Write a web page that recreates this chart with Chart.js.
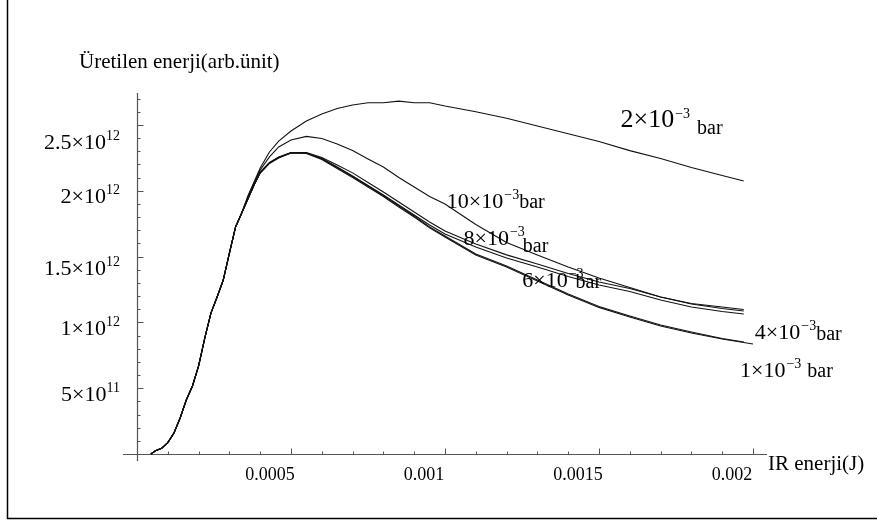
<!DOCTYPE html>
<html>
<head>
<meta charset="utf-8">
<script src="https://cdn.jsdelivr.net/npm/chart.js@4.4.0/dist/chart.umd.min.js"></script>
<style>
  html, body { margin: 0; padding: 0; background: #fff; }
  canvas { display: block; }
</style>
</head>
<body>
<canvas id="enerji" width="877" height="525"></canvas>
<script>
// IR enerjisi (J) - ortak x degerleri
const irEnerji = [0.000045, 0.00006, 0.00008, 0.0001, 0.00012, 0.00014, 0.00016, 0.00018,
  0.0002, 0.00022, 0.00024, 0.00026, 0.00028, 0.0003, 0.00032, 0.00034,
  0.00036, 0.00038, 0.0004, 0.00043, 0.00046, 0.0005, 0.00055, 0.0006, 0.00065, 0.0007,
  0.00075, 0.0008, 0.00085, 0.0009, 0.00095, 0.001, 0.0011, 0.0012, 0.0013, 0.0014,
  0.0015, 0.0016, 0.0017, 0.0018, 0.0019, 0.00197, 0.002];

// butun basinclarda ayni olan yukselis kismi (x10^12)
const yukselis = [0, 0.024, 0.043, 0.087, 0.160, 0.274, 0.410, 0.517, 0.669, 0.881,
  1.071, 1.193, 1.322, 1.527, 1.725, 1.831];

// 0.00036 J'den sonrasi, her basinc icin (x10^12)
const bar2 = [1.960, 2.067, 2.173, 2.295, 2.378, 2.454, 2.530, 2.584, 2.625, 2.652, 2.669, 2.669, 2.681,
  2.669, 2.669, 2.644, 2.600, 2.551, 2.492, 2.434, 2.375, 2.305, 2.245, 2.177, 2.116, 2.074, null];
const bar10 = [1.955, 2.059, 2.158, 2.257, 2.333, 2.386, 2.413, 2.397, 2.356, 2.306, 2.242, 2.181, 2.101,
  2.029, 1.957, 1.900, 1.744, 1.607, 1.512, 1.421, 1.337, 1.265, 1.193, 1.144, 1.117, 1.098, null];
const bar8 = [1.938, 2.044, 2.143, 2.215, 2.257, 2.291, 2.291, 2.253, 2.196, 2.136, 2.063, 1.991, 1.915,
  1.839, 1.763, 1.695, 1.596, 1.513, 1.444, 1.372, 1.307, 1.258, 1.193, 1.140, 1.106, 1.087, null];
const bar6 = [1.938, 2.044, 2.143, 2.212, 2.253, 2.287, 2.287, 2.245, 2.181, 2.113, 2.040, 1.968, 1.892,
  1.816, 1.740, 1.672, 1.573, 1.490, 1.421, 1.349, 1.284, 1.235, 1.170, 1.117, 1.083, 1.064, null];
const bar4 = [1.938, 2.044, 2.135, 2.211, 2.253, 2.291, 2.287, 2.245, 2.177, 2.109, 2.036, 1.964, 1.884,
  1.809, 1.725, 1.657, 1.520, 1.429, 1.322, 1.216, 1.121, 1.049, 0.980, 0.927, 0.878, 0.851, null];
const bar1 = [1.938, 2.044, 2.135, 2.208, 2.249, 2.287, 2.283, 2.238, 2.169, 2.101, 2.029, 1.957, 1.876,
  1.801, 1.718, 1.649, 1.512, 1.421, 1.315, 1.208, 1.114, 1.041, 0.973, 0.920, 0.874, 0.847, 0.836];

const xTicks = [0.0005, 0.001, 0.0015, 0.002];
const xTickLabels = ['0.0005', '0.001', '0.0015', '0.002'];
const yTicks = [5e11, 1e12, 1.5e12, 2e12, 2.5e12];
const yTickLabels = [['5×10', '11'], ['1×10', '12'], ['1.5×10', '12'], ['2×10', '12'], ['2.5×10', '12']];

const serif = '"Liberation Serif", "Times New Roman", serif';
// y sayilarinin tik cizgisine gore asagi kaymasi (px)
const yEtiketKayma = [13, 13, 18, 12, 24];

function seri(kuyruk) {
  const ys = yukselis.concat(kuyruk);
  return irEnerji.map((x, i) => ({ x: x, y: ys[i] == null ? null : ys[i] * 1e12 }))
    .filter(p => p.y !== null);
}

// egrilerin yanindaki basinc etiketleri (veri koordinatinda)
const etiketler = [
  { x: 0.00157, y: 2.487e12, ana: '2×10', size: 26, barDx: 7, barDy: 7 },
  { x: 0.001006, y: 1.867e12, ana: '10×10', size: 22, barDx: 0, barDy: 0 },
  { x: 0.00106, y: 1.588e12, ana: '8×10', size: 22, barDx: -2, barDy: 7 },
  { x: 0.001251, y: 1.271e12, ana: '6×10', size: 22, barDx: -8, barDy: 1 },
  { x: 0.002006, y: 0.872e12, ana: '4×10', size: 22, barDx: 0, barDy: 1 },
  { x: 0.001958, y: 0.587e12, ana: '1×10', size: 22, barDx: 6, barDy: 0 }
];

function yaz(ctx, t, size, x, y) {
  ctx.font = size + 'px ' + serif;
  ctx.fillText(t, x, y);
  return ctx.measureText(t).width;
}
function genislik(ctx, t, size) {
  ctx.font = size + 'px ' + serif;
  return ctx.measureText(t).width;
}

const eksenler = {
  id: 'eksenler',
  beforeDatasetsDraw(chart) {
    const { ctx, chartArea: a, scales: { x, y } } = chart;
    const x0 = Math.round(x.getPixelForValue(0)) + 0.5;
    const y0 = Math.round(y.getPixelForValue(0)) + 0.5;
    ctx.save();
    // cerceve
    ctx.strokeStyle = '#000';
    ctx.lineWidth = 1.5;
    ctx.beginPath();
    ctx.moveTo(7.5, 0);
    ctx.lineTo(7.5, 518.5);
    ctx.lineTo(877, 518.5);
    ctx.stroke();

    ctx.strokeStyle = '#555';
    ctx.lineWidth = 1.2;
    ctx.beginPath();
    ctx.moveTo(a.left, y0); ctx.lineTo(a.right, y0);
    ctx.moveTo(x0, a.top); ctx.lineTo(x0, a.bottom);
    ctx.stroke();

    ctx.lineWidth = 1;
    ctx.beginPath();
    for (let i = 1; i <= 20; i++) {
      const px = Math.round(x.getPixelForValue(i * 0.0001)) + 0.5;
      ctx.moveTo(px, y0);
      ctx.lineTo(px, y0 - (i % 5 === 0 ? 6 : 3));
    }
    for (let i = 1; i <= 27; i++) {
      const py = Math.round(y.getPixelForValue(i * 1e11)) + 0.5;
      ctx.moveTo(x0, py);
      ctx.lineTo(x0 + (i % 5 === 0 ? 6 : 3), py);
    }
    ctx.stroke();
    ctx.restore();
  },
  afterDraw(chart) {
    const { ctx, scales: { x, y } } = chart;
    ctx.save();
    ctx.fillStyle = '#000';
    ctx.textBaseline = 'alphabetic';
    ctx.textAlign = 'left';

    // x ekseni sayilari
    xTicks.forEach((v, i) => {
      const w = genislik(ctx, xTickLabels[i], 18);
      yaz(ctx, xTickLabels[i], 18, x.getPixelForValue(v) - 21 - w / 2, 480);
    });

    // y ekseni sayilari, sag hizali
    yTicks.forEach((v, i) => {
      const [ana, us] = yTickLabels[i];
      const w = genislik(ctx, ana, 22) + genislik(ctx, us, 14);
      const py = y.getPixelForValue(v) + yEtiketKayma[i];
      let cx = 120 - w;
      cx += yaz(ctx, ana, 22, cx, py);
      yaz(ctx, us, 14, cx, py - 9);
    });

    // eksen basliklari
    yaz(ctx, 'Üretilen enerji(arb.ünit)', 21, 79, 68);
    yaz(ctx, 'IR enerji(J)', 21, x.right + 1, 470);

    // basinc etiketleri
    etiketler.forEach(e => {
      let cx = x.getPixelForValue(e.x);
      const py = y.getPixelForValue(e.y);
      cx += yaz(ctx, e.ana, e.size, cx, py);
      cx += yaz(ctx, '−3', 14, cx + 1, py - 9) + 1;
      yaz(ctx, 'bar', 20, cx + e.barDx, py + e.barDy);
    });
    ctx.restore();
  }
};

const cizgi = { borderColor: '#111', borderWidth: 1.1, pointRadius: 0, showLine: true, tension: 0, fill: false };

new Chart(document.getElementById('enerji').getContext('2d'), {
  type: 'scatter',
  data: {
    datasets: [
      Object.assign({ label: '2×10⁻³ bar', data: seri(bar2) }, cizgi),
      Object.assign({ label: '10×10⁻³ bar', data: seri(bar10) }, cizgi),
      Object.assign({ label: '8×10⁻³ bar', data: seri(bar8) }, cizgi),
      Object.assign({ label: '6×10⁻³ bar', data: seri(bar6) }, cizgi),
      Object.assign({ label: '4×10⁻³ bar', data: seri(bar4) }, cizgi),
      Object.assign({ label: '1×10⁻³ bar', data: seri(bar1) }, cizgi)
    ]
  },
  options: {
    responsive: false,
    animation: false,
    layout: { padding: { left: 123, right: 110, top: 93, bottom: 64 } },
    plugins: { legend: { display: false }, tooltip: { enabled: false } },
    scales: {
      x: { type: 'linear', display: false, min: -0.0000455, max: 0.0020455 },
      y: { type: 'linear', display: false, min: -0.0532e12, max: 2.743e12 }
    }
  },
  plugins: [eksenler]
});
</script>
</body>
</html>
